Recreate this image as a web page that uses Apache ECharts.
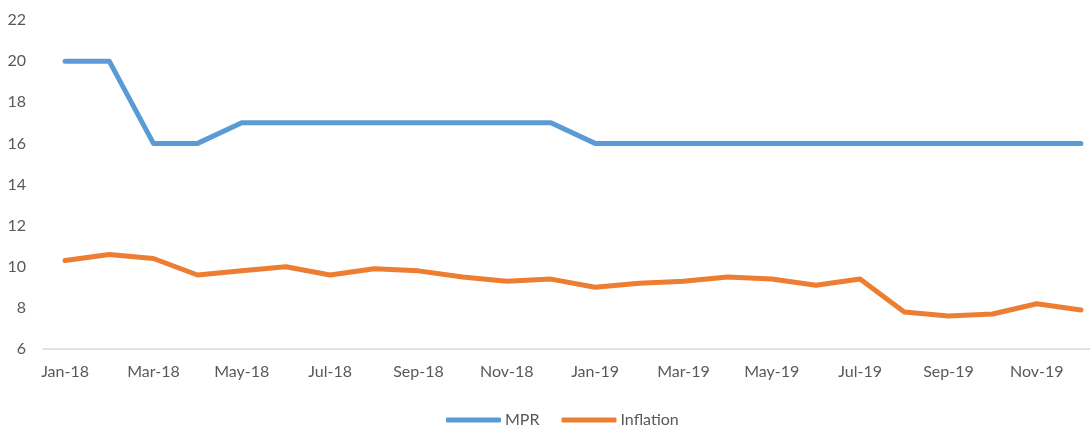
<!DOCTYPE html>
<html>
<head>
<meta charset="utf-8">
<script src="https://cdn.jsdelivr.net/npm/echarts@6/dist/echarts.min.js"></script>
<style>
  html, body { margin: 0; padding: 0; background: #fff; }
  #chart { width: 1090px; height: 426px; }
</style>
</head>
<body>
<div id="chart"></div>
<script>
const months = [
  'Jan-18', 'Feb-18', 'Mar-18', 'Apr-18', 'May-18', 'Jun-18',
  'Jul-18', 'Aug-18', 'Sep-18', 'Oct-18', 'Nov-18', 'Dec-18',
  'Jan-19', 'Feb-19', 'Mar-19', 'Apr-19', 'May-19', 'Jun-19',
  'Jul-19', 'Aug-19', 'Sep-19', 'Oct-19', 'Nov-19', 'Dec-19'
]

const mpr = [20, 20, 16, 16, 17, 17, 17, 17, 17, 17, 17, 17,
  16, 16, 16, 16, 16, 16, 16, 16, 16, 16, 16, 16]

const inflation = [10.3, 10.6, 10.4, 9.6, 9.8, 10.0, 9.6, 9.9, 9.8, 9.5, 9.3, 9.4,
  9.0, 9.2, 9.3, 9.5, 9.4, 9.1, 9.4, 7.8, 7.6, 7.7, 8.2, 7.9]

const textColor = '#595959'
const font = 'Lato'

const chart = echarts.init(document.getElementById('chart'))
chart.setOption({
  animation: false,
  backgroundColor: '#fff',
  grid: { left: 43, top: 20, bottom: 77, width: 1060, outerBoundsMode: 'none' },
  legend: {
    top: 407,
    left: 441,
    icon: 'roundRect',
    itemWidth: 55,
    itemHeight: 5,
    itemGap: 22,
    textStyle: { color: textColor, fontSize: 16, fontFamily: font, padding: [0, 0, 0, -1] },
    data: ['MPR', 'Inflation']
  },
  xAxis: {
    type: 'category',
    data: months,
    axisLine: { lineStyle: { color: '#D9D9D9', width: 1.5 } },
    axisTick: { interval: 1, length: 6, lineStyle: { color: '#D9D9D9', width: 1.5 } },
    axisLabel: { interval: 1, color: textColor, fontSize: 16, fontFamily: font, margin: 15 }
  },
  yAxis: {
    type: 'value',
    min: 6,
    max: 22,
    interval: 2,
    splitLine: { show: false },
    axisLine: { show: false },
    axisTick: { show: false },
    axisLabel: { color: textColor, fontSize: 16, fontFamily: font, margin: 17 }
  },
  series: [
    {
      name: 'MPR',
      type: 'line',
      data: mpr,
      symbol: 'none',
      color: '#5B9BD5',
      lineStyle: { width: 5, cap: 'round', join: 'round' }
    },
    {
      name: 'Inflation',
      type: 'line',
      data: inflation,
      symbol: 'none',
      color: '#ED7D31',
      lineStyle: { width: 5, cap: 'round', join: 'round' }
    }
  ]
})
</script>
</body>
</html>
